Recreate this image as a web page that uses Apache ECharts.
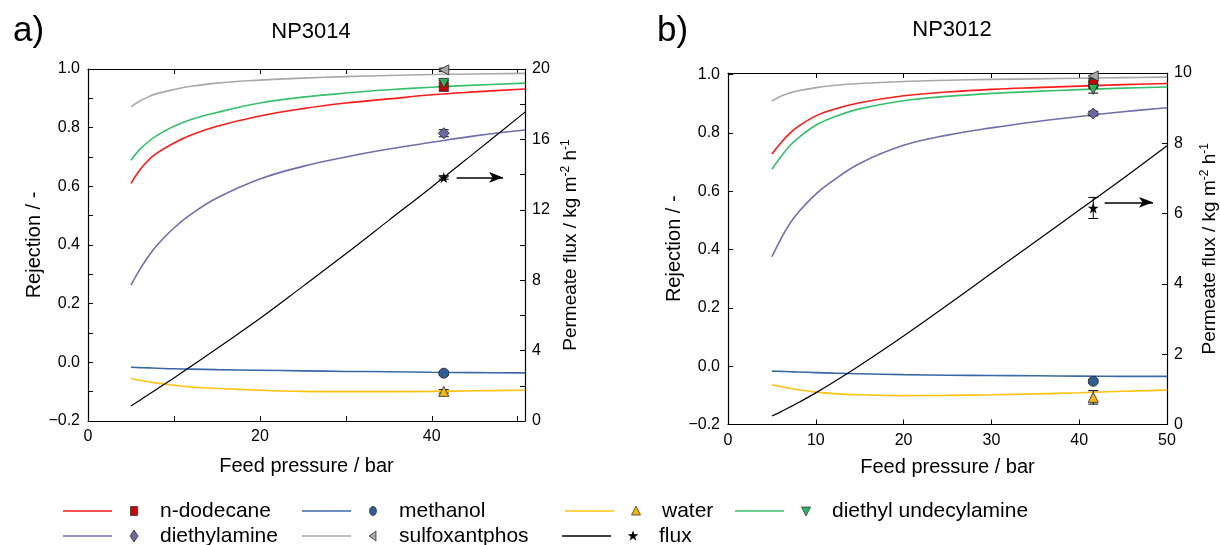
<!DOCTYPE html>
<html>
<head>
<meta charset="utf-8">
<script src="https://cdn.jsdelivr.net/npm/echarts@6/dist/echarts.min.js"></script>
<style>
html,body{margin:0;padding:0;background:#fff;}
#chart{width:1220px;height:545px;}
</style>
</head>
<body>
<div id="chart"></div>
<script>
// ---------- DATA ----------
const panelTitles = ['NP3014', 'NP3012'];
const panelLetters = ['a)', 'b)'];
const compoundNames = ['n-dodecane', 'methanol', 'water', 'diethyl undecylamine', 'diethylamine', 'sulfoxantphos', 'flux'];

// Panel a (NP3014) model curves
const pressureA = [5, 6, 7, 8, 10, 12, 15, 20, 25, 30, 35, 40, 45, 50.85];
const a_dodecane = [0.610, 0.655, 0.688, 0.713, 0.748, 0.775, 0.805, 0.840, 0.865, 0.884, 0.898, 0.912, 0.922, 0.932];
const a_methanol = [-0.017, -0.018, -0.019, -0.020, -0.022, -0.023, -0.025, -0.027, -0.029, -0.031, -0.032, -0.034, -0.035, -0.036];
const a_water = [-0.055, -0.061, -0.066, -0.071, -0.078, -0.084, -0.089, -0.095, -0.099, -0.100, -0.100, -0.099, -0.097, -0.095];
const a_dua = [0.689, 0.725, 0.752, 0.773, 0.805, 0.828, 0.852, 0.884, 0.904, 0.918, 0.929, 0.938, 0.945, 0.952];
const a_diethylamine = [0.263, 0.315, 0.360, 0.398, 0.458, 0.505, 0.560, 0.625, 0.668, 0.700, 0.727, 0.750, 0.772, 0.792];
const a_sulfox = [0.871, 0.890, 0.905, 0.916, 0.930, 0.941, 0.952, 0.962, 0.969, 0.974, 0.978, 0.981, 0.983, 0.985];
const a_flux = [0.85, 1.17, 1.49, 1.81, 2.45, 3.11, 4.12, 5.82, 7.65, 9.50, 11.40, 13.30, 15.25, 17.55];

// Panel a measured points [pressure, value, error]
const a_meas_p = 41.4;
const a_meas = [0.940, -0.037, -0.099, 0.951, 0.781, 0.997, 13.84];
const a_err = [0.015, 0.006, 0.006, 0.010, 0.012, 0.006, 0.10];
const a_arrow = [42.9, 48.3, 13.84];

// Panel b (NP3012) model curves
const pressureB = [5, 6, 7, 8, 10, 12, 15, 20, 25, 30, 35, 40, 45, 50];
const b_dodecane = [0.727, 0.765, 0.797, 0.822, 0.858, 0.880, 0.903, 0.927, 0.940, 0.949, 0.955, 0.960, 0.965, 0.969];
const b_methanol = [-0.017, -0.018, -0.019, -0.020, -0.022, -0.024, -0.026, -0.029, -0.031, -0.032, -0.033, -0.034, -0.035, -0.035];
const b_water = [-0.064, -0.070, -0.076, -0.081, -0.089, -0.094, -0.098, -0.101, -0.100, -0.098, -0.095, -0.091, -0.086, -0.082];
const b_dua = [0.675, 0.717, 0.755, 0.783, 0.826, 0.853, 0.882, 0.910, 0.925, 0.935, 0.942, 0.948, 0.953, 0.957];
const b_diethylamine = [0.375, 0.435, 0.487, 0.527, 0.590, 0.637, 0.695, 0.757, 0.792, 0.817, 0.838, 0.856, 0.872, 0.886];
const b_sulfox = [0.909, 0.925, 0.936, 0.944, 0.955, 0.962, 0.969, 0.976, 0.980, 0.983, 0.985, 0.987, 0.989, 0.991];
const b_flux = [0.24, 0.36, 0.49, 0.62, 0.90, 1.20, 1.68, 2.52, 3.40, 4.30, 5.20, 6.10, 7.00, 7.93];

const b_meas_p = 41.6;
const b_meas = [0.967, -0.052, -0.107, 0.949, 0.866, 0.995, 6.16];
const b_err = [0.008, 0.006, 0.023, 0.013, 0.008, 0.008, 0.30];
const b_arrow = [42.9, 48.4, 6.32];

// Axis ticks
const pressLabelsA = [0, 20, 40];
const pressLabelsB = [0, 10, 20, 30, 40, 50];

// ---------- STYLE ----------
const FONT = '"Liberation Sans", Arial, sans-serif';
const lineColors = ['#ff1a1a', '#3a68a6', '#ffc20e', '#35c06a', '#6e6eac', '#a8a8a8', '#000000'];
const markerColors = ['#d40000', '#2f5d95', '#f5b800', '#2db35d', '#6a6aa4', '#a8a8a8', '#000000'];
const starPath = 'path://M50,0 L61,35 L98,35 L68,57 L79,91 L50,70 L21,91 L32,57 L2,35 L39,35 Z';
const markerSymbols = ['rect', 'circle', 'triangle', 'triangle', 'diamond', 'triangle', starPath];
const markerRotate = [0, 0, 0, 180, 0, 90, 0];
const markerSize = [9, 10, 10, 10, 11, 10, 11];

function zip(xs, ys) { return xs.map((x, i) => [x, ys[i]]); }
function fmtRej(v) {
  if (Math.abs(v * 5 - Math.round(v * 5)) > 1e-6) return '';
  if (Math.abs(v) < 1e-9) return '0.0';
  return v < 0 ? '\u2212' + Math.abs(v).toFixed(1) : v.toFixed(1);
}

const axisLineStyle = { show: true, onZero: false, lineStyle: { color: '#000', width: 1.2 } };
const tickIn = { show: true, inside: true, length: 5, lineStyle: { color: '#000', width: 1 } };
const minorIn = { show: true, splitNumber: 2, length: 5, lineStyle: { color: '#000', width: 1 } };
const labelStyle = { color: '#000', fontSize: 16, fontFamily: FONT };
const nameStyle = { color: '#000', fontSize: 20, fontFamily: FONT };
const fluxName = 'Permeate flux / kg m{sup|-2} h{sup|-1}';
const fluxNameStyle = { color: '#000', fontSize: 19, fontFamily: FONT,
  rich: { sup: { fontSize: 12, fontFamily: FONT, color: '#000', verticalAlign: 'bottom', padding: [0, 0, 9, 0] } }
};

const panels = [
  { grid: { left: 88, top: 69, width: 437, height: 352 }, xmax: 50.85, rmax: 20, rint: 4, rminor: true, yminor: true, ymax: 1.0,
    xint: 10, xlabels: pressLabelsA, xs: pressureA,
    curves: [a_dodecane, a_methanol, a_water, a_dua, a_diethylamine, a_sulfox, a_flux],
    mp: a_meas_p, meas: a_meas, err: a_err, arrow: a_arrow,
    yNameGap: 44, rNameGap: 35, xNameGap: 35 },
  { grid: { left: 728, top: 73, width: 439, height: 351.5 }, xmax: 50, rmax: 10, rint: 2, rminor: false, yminor: false, ymax: 1.005,
    xint: 10, xlabels: pressLabelsB, xs: pressureB,
    curves: [b_dodecane, b_methanol, b_water, b_dua, b_diethylamine, b_sulfox, b_flux],
    mp: b_meas_p, meas: b_meas, err: b_err, arrow: b_arrow,
    yNameGap: 36, rNameGap: 32, xNameGap: 33 }
];

const grids = [], xAxes = [], yAxes = [], series = [];
panels.forEach((P, pi) => {
  grids.push(P.grid);
  const xb = xAxes.length;
  xAxes.push({
    type: 'value', gridIndex: pi, position: 'bottom', min: 0, max: P.xmax, interval: P.xint,
    name: 'Feed pressure / bar', nameLocation: 'middle', nameGap: P.xNameGap, nameTextStyle: nameStyle,
    axisLine: axisLineStyle, axisTick: tickIn, splitLine: { show: false },
    axisLabel: Object.assign({}, labelStyle, { margin: 8,
      formatter: v => (P.xlabels.some(t => Math.abs(t - v) < 1e-6) ? String(Math.round(v)) : '') })
  });
  xAxes.push({
    type: 'value', gridIndex: pi, position: 'top', min: 0, max: P.xmax, interval: P.xint,
    axisLine: axisLineStyle, axisTick: tickIn, splitLine: { show: false }, axisLabel: { show: false }
  });
  const yl = yAxes.length;
  yAxes.push({
    type: 'value', gridIndex: pi, position: 'left', min: -0.2, max: P.ymax, interval: 0.2,
    name: 'Rejection / -', nameLocation: 'middle', nameGap: P.yNameGap, nameTextStyle: nameStyle,
    axisLine: axisLineStyle, axisTick: tickIn, splitLine: { show: false },
    minorTick: P.yminor ? minorIn : { show: false }, minorSplitLine: { show: false },
    axisLabel: Object.assign({}, labelStyle, { margin: 8, formatter: fmtRej })
  });
  yAxes.push({
    type: 'value', gridIndex: pi, position: 'right', min: 0, max: P.rmax, interval: P.rint,
    name: fluxName, nameLocation: 'middle', nameGap: P.rNameGap, nameRotate: 90, nameTextStyle: fluxNameStyle,
    axisLine: axisLineStyle, axisTick: tickIn, splitLine: { show: false },
    minorTick: P.rminor ? minorIn : { show: false }, minorSplitLine: { show: false },
    axisLabel: Object.assign({}, labelStyle, { margin: 7 })
  });

  // curves
  P.curves.forEach((ys, ci) => {
    const isFlux = ci === 6;
    const s = {
      type: 'line', name: compoundNames[ci], xAxisIndex: xb, yAxisIndex: isFlux ? yl + 1 : yl,
      data: zip(P.xs, ys), smooth: 0.4, showSymbol: false, symbol: 'none', silent: true,
      lineStyle: { color: lineColors[ci], width: isFlux ? 1.2 : 1.6 }, z: 2
    };
    if (isFlux) {
      s.markLine = {
        silent: true, symbol: ['none', 'arrow'], symbolSize: [8, 14], animation: false,
        lineStyle: { color: '#000', width: 1.5, type: 'solid' }, label: { show: false },
        data: [[{ coord: [P.arrow[0], P.arrow[2]] }, { coord: [P.arrow[1], P.arrow[2]] }]]
      };
    }
    series.push(s);
  });
  // error bars
  P.meas.forEach((v, ci) => {
    const isFlux = ci === 6;
    series.push({
      type: 'custom', xAxisIndex: xb, yAxisIndex: isFlux ? yl + 1 : yl, silent: true, z: 4,
      data: [[P.mp, v - P.err[ci], v + P.err[ci]]],
      encode: { x: 0, y: [1, 2] },
      renderItem: function (params, api) {
        const p1 = api.coord([api.value(0), api.value(1)]);
        const p2 = api.coord([api.value(0), api.value(2)]);
        const w = 5, st = { stroke: '#000', lineWidth: 1 };
        return { type: 'group', children: [
          { type: 'line', shape: { x1: p1[0], y1: p1[1], x2: p2[0], y2: p2[1] }, style: st },
          { type: 'line', shape: { x1: p1[0] - w, y1: p1[1], x2: p1[0] + w, y2: p1[1] }, style: st },
          { type: 'line', shape: { x1: p2[0] - w, y1: p2[1], x2: p2[0] + w, y2: p2[1] }, style: st }
        ] };
      }
    });
  });
  // markers
  P.meas.forEach((v, ci) => {
    const isFlux = ci === 6;
    series.push({
      type: 'scatter', name: compoundNames[ci], xAxisIndex: xb, yAxisIndex: isFlux ? yl + 1 : yl,
      data: [[P.mp, v]], symbol: markerSymbols[ci], symbolRotate: markerRotate[ci], symbolSize: markerSize[ci],
      itemStyle: { color: markerColors[ci], borderColor: isFlux ? '#000' : '#222', borderWidth: isFlux ? 0 : 0.8, opacity: 1 },
      silent: true, z: 5
    });
  });
});

// ---------- LEGEND (graphic) ----------
const legendRows = [0, 0, 0, 0, 1, 1, 1];
const legendLineX = [63, 302, 565, 735, 63, 302, 562];
const rowY = [511, 536];
const graphics = [];
compoundNames.forEach((n, i) => {
  const x0 = legendLineX[i], y = rowY[legendRows[i]];
  graphics.push({ type: 'line', shape: { x1: x0, y1: y, x2: x0 + 49, y2: y }, style: { stroke: lineColors[i], lineWidth: 1.6 } });
  const mx = x0 + 71;
  let shape;
  const st = { fill: markerColors[i], stroke: i === 6 ? null : '#222', lineWidth: 0.7 };
  switch (i) {
    case 0: shape = { type: 'rect', shape: { x: mx - 3.5, y: y - 4.5, width: 7, height: 9 }, style: st }; break;
    case 1: shape = { type: 'ellipse', shape: { cx: mx, cy: y, rx: 3.5, ry: 4.5 }, style: st }; break;
    case 2: shape = { type: 'polygon', shape: { points: [[mx, y - 5], [mx + 4.5, y + 4], [mx - 4.5, y + 4]] }, style: st }; break;
    case 3: shape = { type: 'polygon', shape: { points: [[mx, y + 5], [mx + 4.5, y - 4], [mx - 4.5, y - 4]] }, style: st }; break;
    case 4: shape = { type: 'polygon', shape: { points: [[mx, y - 6], [mx + 4, y], [mx, y + 6], [mx - 4, y]] }, style: st }; break;
    case 5: shape = { type: 'polygon', shape: { points: [[mx - 4, y], [mx + 3, y - 5], [mx + 3, y + 5]] }, style: st }; break;
    default: {
      const pts = [];
      for (let k = 0; k < 10; k++) {
        const r = k % 2 === 0 ? 5.5 : 2.3, a = -Math.PI / 2 + k * Math.PI / 5;
        pts.push([mx + r * Math.cos(a), y + r * Math.sin(a)]);
      }
      shape = { type: 'polygon', shape: { points: pts }, style: { fill: '#000' } };
    }
  }
  graphics.push(shape);
  graphics.push({ type: 'text', x: x0 + 97, y: y, style: { text: n, fill: '#000', font: '21px ' + FONT, textVerticalAlign: 'middle', textBaseline: 'middle' } });
});

const option = {
  animation: false,
  backgroundColor: '#fff',
  title: [
    { text: panelLetters[0], left: 8, top: 9, textStyle: { fontSize: 35, fontWeight: 'normal', color: '#000', fontFamily: FONT } },
    { text: panelTitles[0], left: 306, top: 16, textAlign: 'center', textStyle: { fontSize: 22, fontWeight: 'normal', color: '#000', fontFamily: FONT } },
    { text: panelLetters[1], left: 652, top: 9, textStyle: { fontSize: 35, fontWeight: 'normal', color: '#000', fontFamily: FONT } },
    { text: panelTitles[1], left: 947, top: 14, textAlign: 'center', textStyle: { fontSize: 22, fontWeight: 'normal', color: '#000', fontFamily: FONT } }
  ],
  grid: grids,
  xAxis: xAxes,
  yAxis: yAxes,
  series: series,
  graphic: graphics
};

const chart = echarts.init(document.getElementById('chart'), null, { renderer: 'canvas' });
chart.setOption(option);
</script>
</body>
</html>
